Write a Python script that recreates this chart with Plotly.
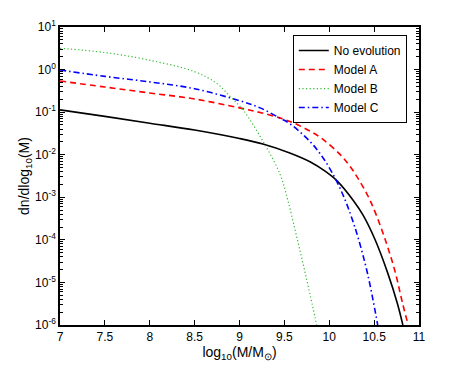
#Mass function plot - no evolution vs models A, B, C
import plotly.graph_objects as go

#Data
x_noevo = [7.0, 7.5, 8.0, 8.5, 9.0, 9.26, 9.56, 9.79, 9.95, 10.09, 10.27, 10.38, 10.51, 10.65, 10.76, 10.82]
y_noevo = [1.13e-1, 7.94e-2, 5.50e-2, 3.80e-2, 2.40e-2, 1.78e-2, 1.10e-2, 6.76e-3, 4.17e-3, 2.40e-3,
           8.32e-4, 3.72e-4, 1.02e-4, 1.70e-5, 3.16e-6, 1.0e-6]

x_a = [7.0, 7.5, 8.0, 8.5, 9.0, 9.25, 9.47, 9.62, 9.79, 9.93, 10.12, 10.22, 10.31, 10.45, 10.60,
       10.73, 10.82, 10.88]
y_a = [0.540, 0.389, 0.282, 0.204, 0.126, 9.55e-2, 7.08e-2, 5.37e-2, 3.55e-2, 2.29e-2, 1.02e-2,
       5.75e-3, 3.02e-3, 8.91e-4, 1.41e-4, 1.91e-5, 3.02e-6, 1.0e-6]

x_b = [7.0, 7.5, 8.0, 8.5, 8.75, 8.89, 9.04, 9.26, 9.45, 9.54, 9.64, 9.74, 9.84, 9.86]
y_b = [3.16, 2.51, 1.66, 0.891, 0.468, 0.240, 0.112, 2.09e-2, 3.55e-3, 8.32e-4, 1.12e-4,
       1.41e-5, 1.58e-6, 1.0e-6]

x_c = [7.0, 7.5, 8.0, 8.5, 9.0, 9.23, 9.45, 9.56, 9.79, 9.93, 10.07, 10.18, 10.25, 10.32, 10.43, 10.54]
y_c = [0.977, 0.692, 0.513, 0.355, 0.186, 0.126, 7.24e-2, 5.37e-2, 2.00e-2, 8.51e-3, 2.69e-3,
       8.32e-4, 3.31e-4, 1.15e-4, 1.51e-5, 1.0e-6]

x_ticks = [7, 7.5, 8, 8.5, 9, 9.5, 10, 10.5, 11]
y_ticks = [1e-6, 1e-5, 1e-4, 1e-3, 1e-2, 1e-1, 1e0, 1e1]
y_ticktext = ['10<sup>-6</sup>', '10<sup>-5</sup>', '10<sup>-4</sup>', '10<sup>-3</sup>',
              '10<sup>-2</sup>', '10<sup>-1</sup>', '10<sup>0</sup>', '10<sup>1</sup>']
y_minor = [m * 10.0**e for e in range(-6, 1) for m in range(2, 10)]

spline = {'shape': 'spline', 'smoothing': 1.0}

fig = go.Figure()
fig.add_trace(go.Scatter(x=x_noevo, y=y_noevo, name='No evolution', mode='lines',
                         line={'color': 'black', 'width': 1.6, **spline}))
fig.add_trace(go.Scatter(x=x_a, y=y_a, name='Model A', mode='lines',
                         line={'color': '#ff0000', 'width': 1.6, 'dash': '6px,4px', **spline}))
fig.add_trace(go.Scatter(x=x_b, y=y_b, name='Model B', mode='lines',
                         line={'color': '#33bb33', 'width': 1.2, 'dash': '1.2px,2.4px', **spline}))
fig.add_trace(go.Scatter(x=x_c, y=y_c, name='Model C', mode='lines',
                         line={'color': '#0000ff', 'width': 1.6, 'dash': '6px,3px,1.5px,3px', **spline}))

axis_font = {'family': 'Liberation Sans, Arial, sans-serif', 'size': 12, 'color': 'black'}

#Layout (page body adds an 8px margin, so the figure is 8px smaller)
fig.update_layout(
    width=455, height=358,
    margin={'l': 52, 'r': 44, 't': 19, 'b': 41},
    paper_bgcolor='white', plot_bgcolor='white',
    font=axis_font,
    showlegend=True,
    legend={'x': 0.966, 'y': 0.973, 'xanchor': 'right', 'yanchor': 'top',
            'bordercolor': 'black', 'borderwidth': 1, 'bgcolor': 'white',
            'font': {'size': 12}, 'itemwidth': 30, 'tracegroupgap': 0},
    xaxis={'range': [7, 11], 'tickvals': x_ticks, 'ticks': 'inside', 'ticklen': 5,
           'showline': True, 'linecolor': 'black', 'linewidth': 1.5, 'mirror': 'ticks',
           'showgrid': False, 'zeroline': False, 'tickcolor': 'black', 'automargin': False,
           'title': {'text': 'log<sub>10</sub>(M/M<sub>⊙</sub>)', 'standoff': 0}},
    yaxis={'type': 'log', 'range': [-6, 1], 'tickvals': y_ticks, 'ticktext': y_ticktext,
           'ticks': 'inside', 'ticklen': 5, 'showline': True, 'linecolor': 'black',
           'linewidth': 1.5, 'mirror': 'ticks', 'showgrid': False, 'zeroline': False,
           'tickcolor': 'black', 'automargin': False,
           'minor': {'tickvals': y_minor, 'ticks': 'inside', 'ticklen': 3, 'tickcolor': 'black',
                     'showgrid': False},
           'title': {'text': 'dn/dlog<sub>10</sub>(M)', 'standoff': 2}},
)

fig.write_html("out.html")
